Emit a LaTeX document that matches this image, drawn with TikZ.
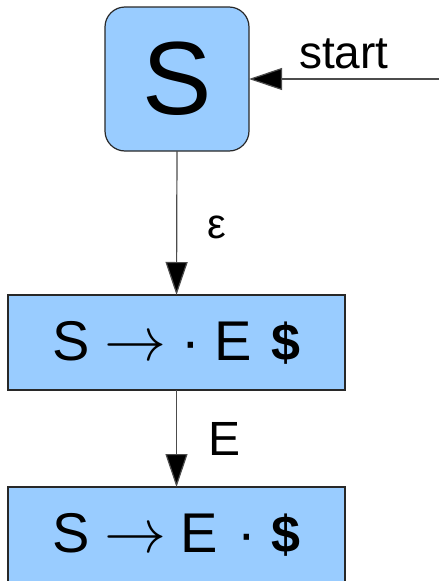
\documentclass[tikz,border=0pt]{standalone}
\usepackage{fix-cm}
\usepackage{fontspec}
\setmainfont{Liberation Sans}
\usetikzlibrary{arrows.meta}
\definecolor{boxfill}{RGB}{153,204,255}
\definecolor{boxline}{RGB}{40,40,40}
\newcommand{\longarr}{{\fontsize{62}{62}\selectfont$\rightarrow$}}
\newcommand{\dollar}{{\fontsize{52}{56}\selectfont\bfseries\$}}
\begin{document}
\begin{tikzpicture}[x=1pt,y=1pt,
  state/.style={draw=boxline,line width=1.2pt,fill=boxfill,inner sep=0pt,outer sep=0pt},
  conn/.style={draw=black!70,line width=1.2pt,-{Triangle[length=33pt,width=22pt,fill=black]}},
  lbl/.style={inner sep=0pt}]
\useasboundingbox (0,0) rectangle (439,-581);
\node[state,rounded corners=20pt,minimum width=144pt,minimum height=144pt,
  font=\fontsize{104}{110}\selectfont] (s) at (177,-79) {S};
\node[state,minimum width=337pt,minimum height=95pt,
  font=\fontsize{56}{60}\selectfont] (a) at (176.5,-342.5)
  {S\hspace{15pt}\longarr\hspace{15pt}·\hspace{14pt}E\hspace{20pt}\dollar};
\node[state,minimum width=337pt,minimum height=95pt,
  font=\fontsize{56}{60}\selectfont] (b) at (176.5,-534.5)
  {S\hspace{15pt}\longarr\hspace{14pt}E\hspace{19pt}·\hspace{16pt}\dollar};
\coordinate (in) at (439,-79);
\node[font=\fontsize{46}{48}\selectfont,inner sep=0pt,anchor=base west] (st) at (299,-68) {start};
\draw[conn] (in) -- (s.east);
\draw[conn] (s.south) -- (a.north);
\draw[conn] (a.south) -- (b.north);
\node[lbl,font=\fontsize{42}{44}\selectfont] (e1) at (217,-227) {ε};
\node[lbl,font=\fontsize{48}{50}\selectfont] (e2) at (224.5,-438.5) {E};
\end{tikzpicture}
\end{document}
